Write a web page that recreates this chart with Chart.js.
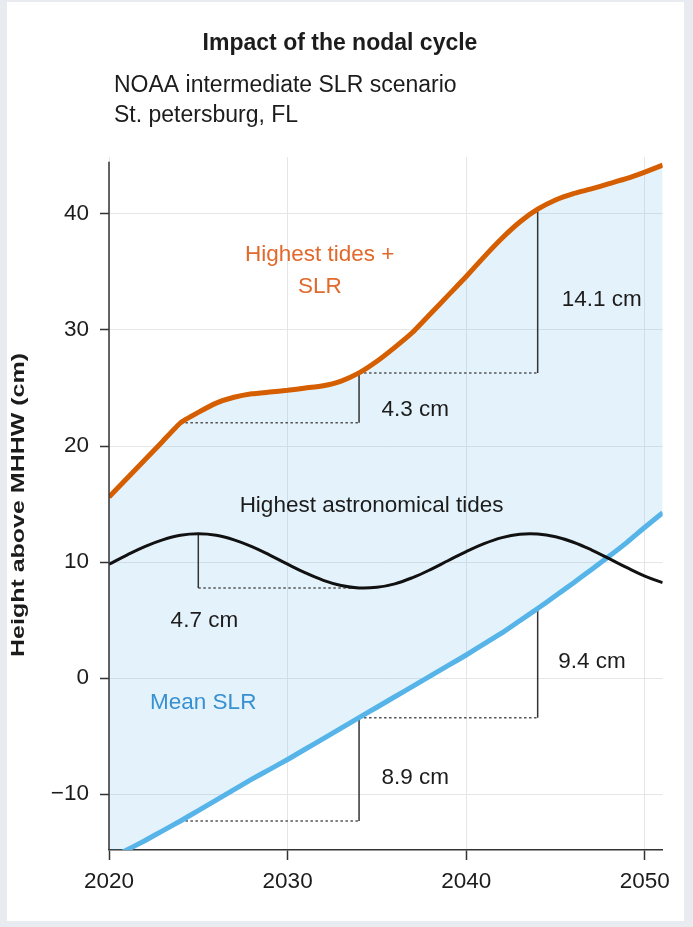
<!DOCTYPE html>
<html>
<head>
<meta charset="utf-8">
<script src="https://cdn.jsdelivr.net/npm/chart.js@4.4.1/dist/chart.umd.min.js"></script>
<style>
  html, body { margin: 0; padding: 0; background: #e8ecf0; }
  canvas { display: block; }
</style>
</head>
<body>
<canvas id="chart" width="693" height="927"></canvas>
<script>
// ---- data (cm above MHHW, St. Petersburg FL, NOAA intermediate scenario) ----
const years = [2020, 2021, 2022, 2023, 2024, 2025, 2026, 2027, 2028, 2029,
               2030, 2031, 2032, 2033, 2034, 2035, 2036, 2037, 2038, 2039,
               2040, 2041, 2042, 2043, 2044, 2045, 2046, 2047, 2048, 2049,
               2050, 2051];

// Highest tides + SLR
const highestTidesSLR = [15.6, 17.2, 18.8, 20.4, 22.0, 22.9, 23.7, 24.2, 24.5, 24.65,
                         24.8, 25.0, 25.2, 25.6, 26.3, 27.3, 28.5, 29.8, 31.4, 33.0,
                         34.6, 36.3, 37.9, 39.3, 40.4, 41.2, 41.75, 42.15, 42.6, 43.05,
                         43.6, 44.2];

// Highest astronomical tides (18.6-year nodal cycle)
const astroTides = [9.82, 10.61, 11.34, 11.92, 12.31, 12.44, 12.31, 11.92, 11.34, 10.61,
                    9.82, 9.07, 8.43, 7.98, 7.77, 7.83, 8.13, 8.67, 9.36, 10.14,
                    10.91, 11.59, 12.11, 12.40, 12.42, 12.18, 11.71, 11.06, 10.30, 9.52,
                    8.80, 8.23];

// Mean sea level rise
const meanSLR = [-15.6, -14.8, -14.0, -13.15, -12.3, -11.4, -10.5, -9.6, -8.7, -7.85,
                 -7.0, -6.1, -5.2, -4.3, -3.4, -2.5, -1.6, -0.7, 0.2, 1.1,
                 2.0, 2.95, 3.9, 4.95, 6.0, 7.1, 8.2, 9.35, 10.5, 11.7,
                 13.0, 14.25];

const xTicks = [2020, 2030, 2040, 2050];
const yTicks = [-10, 0, 10, 20, 30, 40];

// Years used to mark the changes between decades
const markYears = [2024, 2034, 2044];
const astroPeakYear = 2025;
const astroTroughYear = 2034;

// ---- helpers ----
const FONT = '"Liberation Sans", Arial, Helvetica, sans-serif';
const at = (series, yr) => series[years.indexOf(yr)];
const pts = series => years.map((yr, i) => ({ x: yr, y: series[i] }));

const COL_ORANGE = '#d55e00';
const COL_ORANGE_TXT = '#e2692c';
const COL_BLUE = '#56b4e9';
const COL_BLUE_TXT = '#3790d0';
const COL_TEXT = '#1c1c1c';
const COL_AXIS = '#333333';

function seg(x0, y0, x1, y1, dotted) {
  return {
    data: [{ x: x0, y: y0 }, { x: x1, y: y1 }],
    borderColor: dotted ? '#555555' : '#333333',
    borderWidth: 1.5,
    borderDash: dotted ? [2.5, 2.5] : [],
    pointRadius: 0,
    fill: false,
    tension: 0,
    order: 5
  };
}

const [yA, yB, yC] = markYears;
const o1 = at(highestTidesSLR, yA), o2 = at(highestTidesSLR, yB), o3 = at(highestTidesSLR, yC);
const m1 = at(meanSLR, yA), m2 = at(meanSLR, yB), m3 = at(meanSLR, yC);
const aHi = at(astroTides, astroPeakYear), aLo = at(astroTides, astroTroughYear);

const guides = [
  // highest tides + SLR steps
  seg(yA, o1, yB, o1, true), seg(yB, o1, yB, o2, false),
  seg(yB, o2, yC, o2, true), seg(yC, o2, yC, o3, false),
  // nodal cycle range
  seg(astroPeakYear, aHi, astroPeakYear, aLo, false),
  seg(astroPeakYear, aLo, astroTroughYear, aLo, true),
  // mean SLR steps
  seg(yA, m1, yB, m1, true), seg(yB, m1, yB, m2, false),
  seg(yB, m2, yC, m2, true), seg(yC, m2, yC, m3, false)
];

const cm = v => v.toFixed(1) + ' cm';

// ---- plugins ----
const pageBackground = {
  id: 'pageBackground',
  beforeDraw(chart) {
    const ctx = chart.ctx;
    ctx.save();
    ctx.fillStyle = '#e8ecf0';
    ctx.fillRect(0, 0, chart.width, chart.height);
    ctx.fillStyle = '#ffffff';
    ctx.fillRect(7, 2, 677, 919);
    ctx.restore();
  }
};

// vertical axis line, stopping a little below the top of the plot area
const yAxisLine = {
  id: 'yAxisLine',
  afterDatasetsDraw(chart) {
    const ctx = chart.ctx, a = chart.chartArea;
    const top = chart.scales.y.getPixelForValue(44.5);
    ctx.save();
    ctx.strokeStyle = COL_AXIS;
    ctx.lineWidth = 1.5;
    ctx.beginPath();
    ctx.moveTo(a.left, top);
    ctx.lineTo(a.left, a.bottom);
    ctx.stroke();
    ctx.restore();
  }
};

const chartText = {
  id: 'chartText',
  afterDatasetsDraw(chart) {
    const ctx = chart.ctx;
    const xs = chart.scales.x, ys = chart.scales.y;
    const X = v => xs.getPixelForValue(v);
    const Y = v => ys.getPixelForValue(v);
    ctx.save();
    ctx.textBaseline = 'alphabetic';

    // headings
    ctx.fillStyle = COL_TEXT;
    ctx.font = 'bold 23px ' + FONT;
    ctx.textAlign = 'center';
    ctx.fillText('Impact of the nodal cycle', 340, 50);
    ctx.font = '23px ' + FONT;
    ctx.textAlign = 'left';
    ctx.fillText('NOAA intermediate SLR scenario', 114, 92);
    ctx.fillText('St. petersburg, FL', 114, 122);

    // axis title, drawn upright along the axis
    ctx.save();
    ctx.translate(19, 505);
    ctx.rotate(-Math.PI / 2);
    ctx.font = 'bold 19px ' + FONT;
    const w = ctx.measureText('Height above MHHW (cm)').width;
    ctx.scale(304 / w, 1);
    ctx.textAlign = 'center';
    ctx.textBaseline = 'middle';
    ctx.fillText('Height above MHHW (cm)', 0, 0);
    ctx.restore();

    // series labels
    ctx.font = '22.5px ' + FONT;
    ctx.textAlign = 'center';
    ctx.fillStyle = COL_ORANGE_TXT;
    ctx.fillText('Highest tides +', X(2031.8), Y(35.9));
    ctx.fillText('SLR', X(2031.8), Y(33.15));
    ctx.fillStyle = COL_TEXT;
    ctx.fillText('Highest astronomical tides', X(2034.7), Y(14.3));
    ctx.textAlign = 'left';
    ctx.fillStyle = COL_BLUE_TXT;
    ctx.fillText('Mean SLR', X(2022.3), Y(-2.67));

    // step sizes
    ctx.fillStyle = COL_TEXT;
    ctx.fillText(cm(o2 - o1), X(2035.25), Y(22.6));
    ctx.fillText(cm(o3 - o2), X(2045.35), Y(32.05));
    ctx.fillText(cm(aHi - aLo), X(2023.45), Y(4.45));
    ctx.fillText(cm(m3 - m2), X(2045.15), Y(0.85));
    ctx.fillText(cm(m2 - m1), X(2035.25), Y(-9.13));
    ctx.restore();
  }
};

// ---- chart ----
new Chart(document.getElementById('chart'), {
  type: 'line',
  data: {
    datasets: [
      {
        label: 'Highest tides + SLR',
        data: pts(highestTidesSLR),
        borderColor: COL_ORANGE,
        borderWidth: 5,
        pointRadius: 0,
        tension: 0.15,
        fill: { target: 2 },
        backgroundColor: 'rgba(86, 180, 233, 0.16)',
        order: 1
      },
      {
        label: 'Highest astronomical tides',
        data: pts(astroTides),
        borderColor: '#111111',
        borderWidth: 3,
        pointRadius: 0,
        tension: 0.4,
        fill: false,
        order: 0
      },
      {
        label: 'Mean SLR',
        data: pts(meanSLR),
        borderColor: COL_BLUE,
        borderWidth: 5,
        pointRadius: 0,
        tension: 0.15,
        fill: false,
        order: 2
      },
      ...guides
    ]
  },
  options: {
    responsive: false,
    animation: false,
    devicePixelRatio: 1,
    layout: { padding: { top: 157, right: 30.3, bottom: 0, left: 0 } },
    plugins: {
      legend: { display: false },
      tooltip: { enabled: false },
      filler: { drawTime: 'beforeDatasetsDraw' }
    },
    scales: {
      x: {
        type: 'linear',
        min: 2020,
        max: 2051,
        afterFit: s => { s.height = 77; },
        afterBuildTicks: s => { s.ticks = xTicks.map(v => ({ value: v })); },
        grid: { color: '#e6e6e6', lineWidth: 1, tickColor: COL_AXIS, tickLength: 10, tickWidth: 1.5 },
        border: { display: true, color: COL_AXIS, width: 1.5 },
        ticks: {
          color: COL_TEXT,
          font: { family: FONT, size: 22.5 },
          padding: 8,
          maxRotation: 0,
          callback: v => String(v)
        }
      },
      y: {
        type: 'linear',
        min: -14.8,
        max: 44.9,
        afterFit: s => { s.width = 109; },
        afterBuildTicks: s => { s.ticks = yTicks.map(v => ({ value: v })); },
        grid: { color: '#e6e6e6', lineWidth: 1, tickColor: COL_AXIS, tickLength: 9, tickWidth: 1.5 },
        border: { display: false },
        ticks: {
          color: COL_TEXT,
          font: { family: FONT, size: 22.5 },
          padding: 11,
          callback: v => String(v).replace('-', '\u2212')
        }
      }
    }
  },
  plugins: [pageBackground, yAxisLine, chartText]
});
</script>
</body>
</html>
